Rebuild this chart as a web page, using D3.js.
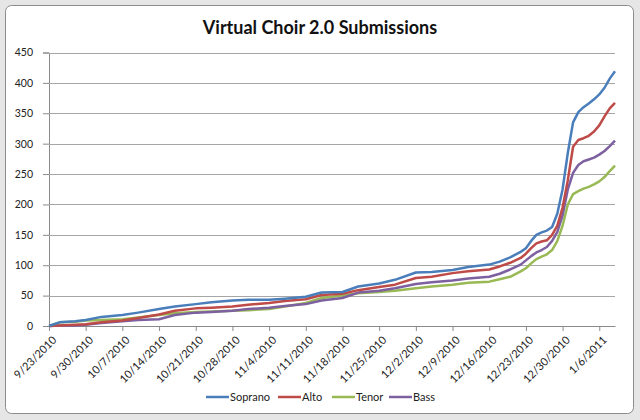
<!DOCTYPE html>
<html><head><meta charset="utf-8">
<script src="https://cdn.jsdelivr.net/npm/d3@7"></script>
<style>
html,body{margin:0;padding:0;background:#e6e6e6;}
svg{display:block;}
</style></head>
<body>
<svg id="c" width="640" height="420"></svg>
<script>
const dates = ["2010-09-23","2010-09-25","2010-09-28","2010-09-30","2010-10-03","2010-10-07","2010-10-10","2010-10-14","2010-10-17","2010-10-21","2010-10-24","2010-10-28","2010-10-31","2010-11-04","2010-11-07","2010-11-11","2010-11-14","2010-11-18","2010-11-21","2010-11-25","2010-11-28","2010-12-02","2010-12-05","2010-12-09","2010-12-12","2010-12-16","2010-12-18","2010-12-20","2010-12-22","2010-12-23","2010-12-24","2010-12-25","2010-12-26","2010-12-27","2010-12-28","2010-12-29","2010-12-30","2010-12-31","2011-01-01","2011-01-02","2011-01-03","2011-01-04","2011-01-05","2011-01-06","2011-01-07","2011-01-08","2011-01-09"];
const soprano = [0,6,8,10,15,18,22,28,32,36,39,42,43,43,45,48,55,56,65,70,76,88,89,92,97,101,106,113,122,128,140,150,154,157,163,185,225,285,335,352,360,366,373,381,392,407,419];
const alto    = [0,1,2,3,6,9,13,19,25,29,30,32,35,38,41,44,51,53,59,64,68,79,81,87,90,93,98,104,112,119,128,136,139,141,150,165,195,240,295,306,309,313,320,330,345,358,367];
const tenor   = [0,6,7,9,10,11,14,18,21,23,24,25,26,28,32,38,46,50,54,56,58,62,65,68,71,73,77,81,90,95,103,110,114,118,125,140,165,200,217,222,226,229,233,238,245,255,264];
const bass    = [0,1,1,2,5,8,10,11,18,22,23,25,28,30,33,36,42,46,55,58,62,69,72,75,78,81,86,93,101,108,115,121,125,130,140,155,182,225,252,265,271,274,277,282,288,296,305];
const seriesNames = ["Soprano","Alto","Tenor","Bass"];
const seriesColors = ["#4A7EBB","#BE4B48","#98B954","#7D60A0"];
const tickDates = ["2010-09-23","2010-09-30","2010-10-07","2010-10-14","2010-10-21","2010-10-28","2010-11-04","2010-11-11","2010-11-18","2010-11-25","2010-12-02","2010-12-09","2010-12-16","2010-12-23","2010-12-30","2011-01-06"];
const yTicks = [0,50,100,150,200,250,300,350,400,450];
const title = "Virtual Choir 2.0 Submissions";

const parse = d3.timeParse("%Y-%m-%d");
const fmt = d => (d.getMonth()+1) + "/" + d.getDate() + "/" + d.getFullYear();
const svg = d3.select("#c");
const F = "Lato, 'Open Sans', sans-serif";

svg.append("rect").attr("x",5.5).attr("y",5.5).attr("width",628).attr("height",408)
  .attr("rx",6).attr("fill","#fff").attr("stroke","#8c8c8c").attr("stroke-width",1);

const m = {l:49, r:615, t:52.5, b:326};
const x = d3.scaleTime().domain([parse("2010-09-23"), parse("2011-01-09")]).range([m.l, m.r]);
const y = d3.scaleLinear().domain([0,450]).range([m.b, m.t]);

svg.append("text").attr("x",320).attr("y",34).attr("text-anchor","middle")
  .attr("font-family",F).attr("font-weight","bold").attr("font-size",18).attr("fill","#111")
  .text(title);

const ya = svg.append("g").attr("transform",`translate(${m.l},0)`)
  .call(d3.axisLeft(y).tickValues(yTicks).tickSize(6).tickPadding(10));
ya.select(".domain").attr("stroke","#8a8a8a");
ya.selectAll(".tick line").attr("stroke","#8a8a8a");
ya.selectAll(".tick text").attr("font-family",F).attr("font-size",10.5).attr("fill","#222");
svg.append("g").selectAll("line").data(yTicks.filter(v=>v>0)).join("line")
  .attr("x1",m.l).attr("x2",m.r).attr("y1",d=>Math.round(y(d))+0.5).attr("y2",d=>Math.round(y(d))+0.5)
  .attr("stroke","#a6a6a6").attr("stroke-width",1.2);

const xa = svg.append("g").attr("transform",`translate(0,${m.b})`)
  .call(d3.axisBottom(x).tickValues(tickDates.map(parse)).tickFormat(fmt).tickSize(5).tickSizeOuter(0));
xa.select(".domain").attr("stroke","#8a8a8a").attr("stroke-width",1.2);
xa.selectAll(".tick line").attr("stroke","#8a8a8a");
xa.selectAll(".tick text").attr("font-family",F).attr("font-size",11).attr("fill","#222")
  .attr("text-anchor","end").attr("y",0).attr("dy","0.35em").attr("transform","translate(5,12) rotate(-45)");

const all = [soprano, alto, tenor, bass];
const line = d3.line().x((d,i)=>x(parse(dates[i]))).y(d=>y(d));
[2,3,1,0].forEach(k=>{
  svg.append("path").attr("d",line(all[k])).attr("fill","none")
    .attr("stroke",seriesColors[k]).attr("stroke-width",2.5).attr("stroke-linejoin","round");
});

const lx = [206, 278, 332, 389];
const lg = svg.append("g");
seriesNames.forEach((n,i)=>{
  lg.append("line").attr("x1",lx[i]).attr("x2",lx[i]+23).attr("y1",397).attr("y2",397)
    .attr("stroke",seriesColors[i]).attr("stroke-width",2.5);
  lg.append("text").attr("x",lx[i]+24).attr("y",401).attr("font-family",F).attr("font-size",11)
    .attr("fill","#222").text(n);
});
</script>
</body></html>
